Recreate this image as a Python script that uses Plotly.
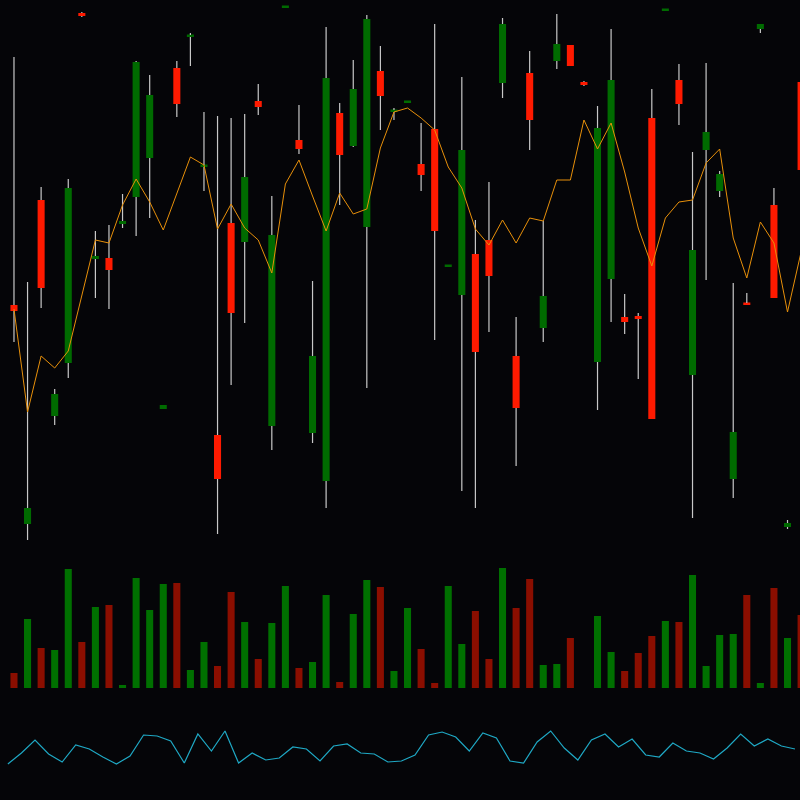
import plotly.graph_objects as go

# price values (screen-derived scale), one entry per bar
opens = [295, 76, 400, 184, 237, 587, 341, 342, 376, 403, 442, 191, 532, 563, 433,
         165, 377, 358, 499, 174, 592, 460, 167, 119, 487, 454, 373, 529, 488, 497,
         436, 471, 333, 305, 346, 360, 517, 244, 527, 272, 539, 555, 518, 238, 321,
         283, 284, 482, 589, 520, 225, 450, 409, 121, 297, 571, 395, 73, 518]
closes = [289, 92, 312, 206, 412, 584, 344, 330, 379, 538, 505, 195, 496, 565, 435,
          121, 287, 423, 493, 365, 593, 451, 244, 522, 445, 511, 581, 504, 490, 499,
          425, 369, 335, 450, 248, 324, 576, 192, 480, 304, 556, 534, 515, 472, 520,
          278, 281, 181, 591, 496, 350, 468, 426, 168, 295, 576, 302, 77, 430]
highs = [543, 318, 413, 211, 421, 588, 369, 375, 406, 539, 525, 195, 539, 567, 488,
         484, 482, 486, 516, 404, 593, 495, 319, 573, 497, 540, 585, 554, 492, 499,
         477, 576, 335, 523, 380, 418, 582, 283, 549, 379, 586, 555, 519, 494, 571,
         306, 287, 511, 591, 536, 448, 537, 429, 317, 307, 576, 412, 80, 518]
lows = [258, 60, 292, 175, 222, 583, 302, 291, 372, 364, 382, 191, 483, 534, 409,
        66, 215, 277, 485, 150, 592, 446, 157, 92, 395, 453, 212, 470, 480, 497,
        409, 260, 333, 109, 92, 268, 502, 134, 450, 258, 531, 534, 514, 190, 278,
        266, 221, 181, 589, 475, 82, 320, 403, 102, 295, 567, 302, 71, 430]
ma = [291, 188, 244, 232, 249, 304, 360, 357, 395, 421, 398, 370, 407, 443, 435,
      371, 396, 372, 360, 327, 416, 440, 404, 369, 407, 386, 391, 452, 488, 492,
      482, 470, 433, 412, 371, 355, 380, 357, 382, 379, 420, 420, 480, 451, 477,
      428, 372, 334, 382, 398, 400, 437, 451, 362, 322, 378, 357, 288, 348]
volume = [15, 69, 40, 38, 119, 46, 81, 83, 3, 110, 78, 104, 105, 18, 46,
          22, 96, 66, 29, 65, 102, 20, 26, 93, 6, 74, 108, 101, 17, 80,
          39, 5, 102, 44, 77, 29, 120, 80, 109, 23, 24, 50, 0, 72, 36,
          17, 35, 52, 67, 66, 113, 22, 53, 54, 93, 5, 100, 50, 73]
osc = [36, 47, 60, 46, 38, 55, 51, 43, 36, 44, 65, 64, 59, 37, 66,
       49, 69, 37, 47, 40, 42, 53, 51, 39, 54, 56, 47, 46, 38, 39,
       45, 65, 68, 63, 49, 67, 62, 39, 37, 58, 69, 52, 40, 60, 66,
       53, 61, 45, 43, 57, 49, 47, 41, 52, 66, 54, 61, 54, 51]

n = len(opens)
idx = list(range(n))
up = [c >= o for o, c in zip(opens, closes)]

body_col = ["#006b00" if u else "#ff1a00" for u in up]
vol_col = ["#007000" if u else "#8b0e00" for u in up]

# wicks: only above and below the body (scatter is drawn over bars in plotly)
wx, wy = [], []
for i in idx:
    lo, hi = min(opens[i], closes[i]), max(opens[i], closes[i])
    wx += [i, i, None, i, i, None]
    wy += [lows[i], lo, None, hi, highs[i], None]

fig = go.Figure()
fig.add_trace(go.Bar(x=idx, base=[min(o, c) for o, c in zip(opens, closes)],
                     y=[max(abs(c - o), 2.5) for o, c in zip(opens, closes)],
                     width=0.52, marker=dict(color=body_col, line=dict(width=0))))
fig.add_trace(go.Scatter(x=wx, y=wy, mode="lines",
                         line=dict(color="#c8c8c8", width=1.2), hoverinfo="skip"))
fig.add_trace(go.Scatter(x=idx, y=ma, mode="lines",
                         line=dict(color="#e8900a", width=1)))
fig.add_trace(go.Bar(x=idx, y=volume, width=0.52, yaxis="y2",
                     marker=dict(color=vol_col, line=dict(width=0))))
fig.add_trace(go.Scatter(x=[i - 0.45 for i in idx], y=osc, mode="lines", yaxis="y3",
                         line=dict(color="#1fa8c4", width=1.2)))

hide = dict(visible=False, showgrid=False, zeroline=False)
fig.update_layout(
    width=800, height=800,
    margin=dict(l=0, r=0, t=0, b=0),
    paper_bgcolor="#050508", plot_bgcolor="#050508",
    showlegend=False, barmode="overlay",
    xaxis=dict(range=[-1.03, 57.92], **hide),
    yaxis=dict(domain=[0.325, 1], range=[60, 600], **hide),
    yaxis2=dict(domain=[0.14, 0.30], range=[0, 128], **hide),
    yaxis3=dict(domain=[0, 0.1], range=[0, 80], **hide),
)
# drop the browser's default page margin so the chart sits at 0,0
fig.write_html("out.html", config={"displayModeBar": False},
               post_script="document.body.style.margin='0';document.body.style.background='#050508';")
